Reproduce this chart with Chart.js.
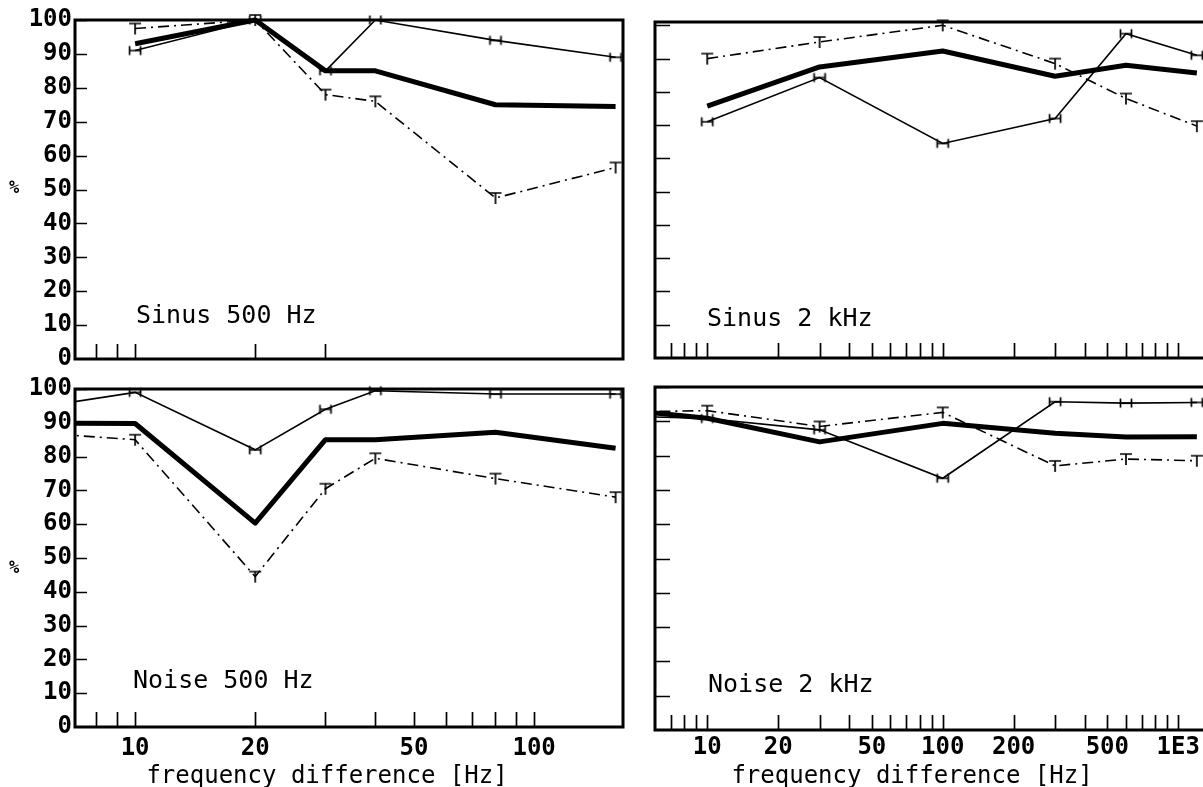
<!DOCTYPE html>
<html>
<head>
<meta charset="utf-8">
<script src="https://cdn.jsdelivr.net/npm/chart.js@4.4.1/dist/chart.umd.min.js"></script>
<style>
html,body{margin:0;padding:0;background:#fff;overflow:hidden;width:1203px;height:787px;}
canvas{position:absolute;left:0;top:0;}
</style>
</head>
<body>
<canvas id="tl" width="1220" height="787"></canvas>
<canvas id="bl" width="1220" height="787"></canvas>
<canvas id="tr" width="1220" height="787"></canvas>
<canvas id="br" width="1220" height="787"></canvas>
<script>
// ---------------- DATA ----------------
// Sinus 500 Hz (frequency difference in Hz)
const sin500X     = [10, 20, 30, 40, 80, 160];
const sin500Thin  = [91, 100, 85, 100, 94, 89];
const sin500Dash  = [97.5, 100, 78, 76, 47.5, 56.5];
const sin500Mean  = [93, 100, 85, 85, 75, 74.5];

// Noise 500 Hz
const noi500X     = [5, 10, 20, 30, 40, 80, 160];
const noi500Thin  = [93.5, 99, 82, 94, 99.5, 98.5, 98.5];
const noi500Dash  = [87.5, 85, 44.5, 70.5, 79.5, 73.5, 68];
const noi500Mean  = [90, 89.8, 60.3, 85, 85, 87.2, 82.5];

// Sinus 2 kHz
const sin2kX      = [10, 30, 100, 300, 600, 1200];
const sin2kThin   = [71, 84.3, 64.5, 72, 97.5, 91];
const sin2kDash   = [90, 95, 100, 88.5, 78, 69.7];
const sin2kMean   = [75.7, 87.5, 92.3, 84.7, 88, 85.7];

// Noise 2 kHz
const noi2kX      = [5, 10, 30, 100, 300, 600, 1200];
const noi2kThin   = [91.4, 90.8, 87.5, 73.4, 95.7, 95.3, 95.5];
const noi2kDash   = [92.8, 93.1, 88.5, 92.6, 77, 79, 78.5];
const noi2kMean   = [93, 90.9, 84, 89.4, 86.5, 85.4, 85.5];

// Tick values / labels
const leftTopTicks    = [8, 9, 10, 20, 30];
const leftBottomTicks = [8, 9, 10, 20, 30, 40, 50, 60, 70, 80, 90, 100];
const rightTicks      = [7, 8, 9, 10, 20, 30, 40, 50, 60, 70, 80, 90, 100, 200, 300, 400, 500, 600, 700, 800, 900, 1000];
const xTickLabels     = {10: '10', 20: '20', 50: '50', 100: '100', 200: '200', 500: '500', 1000: '1E3'};
const yTicks          = [0, 10, 20, 30, 40, 50, 60, 70, 80, 90, 100];
const panelTitles     = ['Sinus 500 Hz', 'Noise 500 Hz', 'Sinus 2 kHz', 'Noise 2 kHz'];
const xAxisTitle      = 'frequency difference [Hz]';
const yAxisTitle      = '%';

// ---------------- MARKERS ----------------
function makeH() {
  const c = document.createElement('canvas'); c.width = 16; c.height = 12;
  const g = c.getContext('2d'); g.strokeStyle = '#000'; g.lineWidth = 1.7;
  g.beginPath();
  g.moveTo(2, 6); g.lineTo(14, 6);
  g.moveTo(2.5, 1.5); g.lineTo(2.5, 10.5);
  g.moveTo(13.5, 1.5); g.lineTo(13.5, 10.5);
  g.stroke();
  return c;
}
function makeT() {
  const c = document.createElement('canvas'); c.width = 14; c.height = 18;
  const g = c.getContext('2d'); g.strokeStyle = '#000'; g.lineWidth = 1.7;
  g.beginPath();
  g.moveTo(1, 4); g.lineTo(13, 4);
  g.moveTo(7, 4); g.lineTo(7, 15);
  g.stroke();
  return c;
}
const markH = makeH();
const markT = makeT();

Chart.defaults.font.family = "'DejaVu Sans Mono', monospace";
Chart.defaults.color = '#000';

const deco = {
  id: 'deco',
  afterDraw(chart, args, o) {
    const {ctx, chartArea: a} = chart;
    const x = chart.scales.x, y = chart.scales.y;
    ctx.save();
    ctx.strokeStyle = '#000';
    ctx.lineWidth = 1.7;
    ctx.beginPath();
    y.ticks.forEach(t => {
      if (t.value <= 0) return;
      const py = Math.round(y.getPixelForValue(t.value)) + 0.5;
      ctx.moveTo(a.left, py); ctx.lineTo(a.left + o.yTickLen, py);
    });
    x.ticks.forEach(t => {
      const px = Math.round(x.getPixelForValue(t.value)) + 0.5;
      ctx.moveTo(px, a.bottom); ctx.lineTo(px, a.bottom - o.xTickLen);
    });
    ctx.stroke();
    ctx.lineWidth = 3;
    ctx.strokeRect(a.left, a.top, a.right - a.left, a.bottom - a.top);
    ctx.fillStyle = '#000';
    ctx.textBaseline = 'alphabetic';
    (o.texts || []).forEach(t => {
      ctx.font = t.font;
      ctx.textAlign = t.align || 'left';
      ctx.fillText(t.text, a.left + t.dx, a.bottom - t.dy);
    });
    ctx.restore();
  }
};

function pts(xs, ys) { return xs.map((v, i) => ({x: v, y: ys[i]})); }

function makePanel(id, p) {
  const clip = {left: 0, top: 8, right: 8, bottom: 0};
  return new Chart(document.getElementById(id), {
    type: 'line',
    data: {
      datasets: [
        {data: pts(p.x, p.thin), borderColor: '#000', borderWidth: 1.6, pointStyle: markH,
         pointRadius: 4, tension: 0, fill: false, clip},
        {data: pts(p.x, p.dash), borderColor: '#000', borderWidth: 1.6, borderDash: [11, 5, 2, 5],
         pointStyle: markT, pointRadius: 4, tension: 0, fill: false, clip},
        {data: pts(p.x, p.mean), borderColor: '#000', borderWidth: 5, pointRadius: 0,
         borderJoinStyle: 'round', borderCapStyle: 'butt', tension: 0, fill: false, clip}
      ]
    },
    options: {
      responsive: false, animation: false, events: [],
      layout: {padding: p.pad},
      plugins: {
        legend: {display: false}, tooltip: {enabled: false},
        deco: {yTickLen: p.yTickLen, xTickLen: 15, texts: p.texts}
      },
      scales: {
        x: {
          type: 'logarithmic', min: p.xmin, max: p.xmax,
          afterBuildTicks: s => { s.ticks = p.xTicks.map(v => ({value: v})); },
          afterFit: s => { s.height = p.xH; },
          grid: {display: false, drawTicks: false}, border: {display: false},
          ticks: {display: p.xLabels, autoSkip: false, maxRotation: 0, minRotation: 0,
                  padding: p.xPad, font: {size: 24, weight: 'bold'},
                  callback: v => (xTickLabels[v] !== undefined ? xTickLabels[v] : '')}
        },
        y: {
          type: 'linear', min: 0, max: p.ymax,
          afterBuildTicks: s => { s.ticks = yTicks.map(v => ({value: v})); },
          afterFit: s => { s.width = p.yW; },
          grid: {display: false, drawTicks: false}, border: {display: false},
          ticks: {display: p.yLabels, padding: 3, font: {size: 24, weight: 'bold'}}
        }
      }
    },
    plugins: [deco]
  });
}

const labFont = "25px 'DejaVu Sans Mono'";
const titFont = "24px 'DejaVu Sans Mono'";
const pctFont = "bold 17px 'DejaVu Sans Mono'";

makePanel('tl', {
  x: sin500X, thin: sin500Thin, dash: sin500Dash, mean: sin500Mean,
  xmin: 7.07, xmax: 167, ymax: 100, xTicks: leftTopTicks,
  pad: {left: 0, top: 20, right: 597, bottom: 428}, xH: 0, yW: 75,
  xLabels: false, yLabels: true, xPad: 0, yTickLen: 12,
  texts: [
    {text: panelTitles[0], font: labFont, dx: 61, dy: 36},
    {text: yAxisTitle, font: pctFont, dx: -66, dy: 166}
  ]
});
makePanel('bl', {
  x: noi500X, thin: noi500Thin, dash: noi500Dash, mean: noi500Mean,
  xmin: 7.07, xmax: 167, ymax: 100, xTicks: leftBottomTicks,
  pad: {left: 0, top: 389, right: 597, bottom: 0}, xH: 60, yW: 75,
  xLabels: true, yLabels: true, xPad: 7, yTickLen: 12,
  texts: [
    {text: panelTitles[1], font: labFont, dx: 58, dy: 39},
    {text: xAxisTitle, font: titFont, dx: 252, dy: -56, align: 'center'},
    {text: yAxisTitle, font: pctFont, dx: -66, dy: 154}
  ]
});
makePanel('tr', {
  x: sin2kX, thin: sin2kThin, dash: sin2kDash, mean: sin2kMean,
  xmin: 6, xmax: 1312, ymax: 101, xTicks: rightTicks,
  pad: {left: 655, top: 22, right: 14, bottom: 429}, xH: 0, yW: 0,
  xLabels: false, yLabels: false, xPad: 0, yTickLen: 15,
  texts: [
    {text: panelTitles[2], font: labFont, dx: 52, dy: 32}
  ]
});
makePanel('br', {
  x: noi2kX, thin: noi2kThin, dash: noi2kDash, mean: noi2kMean,
  xmin: 6, xmax: 1312, ymax: 100, xTicks: rightTicks,
  pad: {left: 655, top: 387, right: 14, bottom: 0}, xH: 57, yW: 0,
  xLabels: true, yLabels: false, xPad: 3, yTickLen: 15,
  texts: [
    {text: panelTitles[3], font: labFont, dx: 53, dy: 38},
    {text: xAxisTitle, font: titFont, dx: 257, dy: -53, align: 'center'}
  ]
});
</script>
</body>
</html>
